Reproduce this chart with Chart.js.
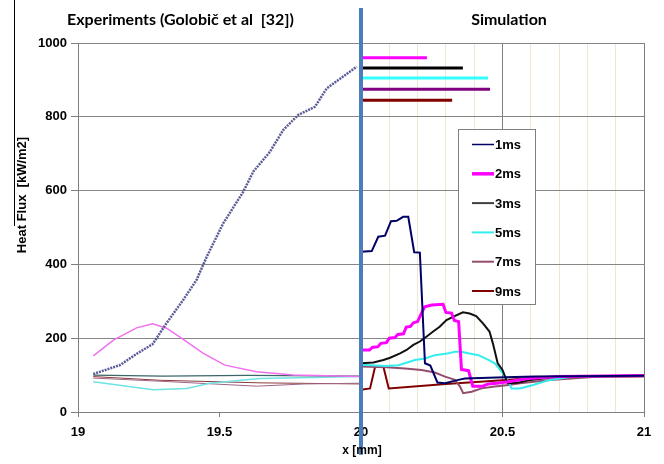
<!DOCTYPE html>
<html>
<head>
<meta charset="utf-8">
<script src="https://cdn.jsdelivr.net/npm/chart.js@4/dist/chart.umd.min.js"></script>
<style>
  body { margin: 0; background: #fff; }
  canvas { display: block; }
</style>
</head>
<body>
<canvas id="chart" width="664" height="464"></canvas>
<script>
// Experiment curves (left half), [x mm, heat flux kW/m2]
const exp1ms = [[19.054, 103], [19.148, 127], [19.212, 160], [19.264, 184], [19.313, 241], [19.371, 303],
  [19.419, 358], [19.455, 421], [19.513, 511], [19.584, 597], [19.619, 651], [19.678, 705], [19.725, 764],
  [19.778, 805], [19.837, 827], [19.879, 877], [19.985, 936]];
const exp2ms = [[19.054, 152], [19.125, 195], [19.207, 228], [19.264, 239], [19.313, 227], [19.372, 197],
  [19.443, 159], [19.519, 127], [19.631, 109], [19.761, 100], [19.879, 98], [19.996, 96]];
const exp3ms = [[19.054, 100], [19.3, 97], [19.6, 99], [20.0, 97]];
const exp5ms = [[19.054, 82], [19.266, 60], [19.384, 64], [19.466, 78], [19.643, 91], [19.996, 96]];
const exp7ms = [[19.054, 92], [19.3, 83], [19.631, 70], [19.8, 76], [20.0, 78]];
const exp9ms = [[19.054, 96], [19.29, 86], [19.643, 79], [20.0, 76]];

// Simulation curves (right half)
const sim1ms = [[20.0, 434], [20.038, 436], [20.061, 475], [20.085, 478], [20.106, 517], [20.126, 518],
  [20.149, 529], [20.167, 529], [20.188, 433], [20.208, 432], [20.226, 132], [20.245, 126], [20.27, 80],
  [20.297, 78], [20.344, 87], [20.367, 91], [20.509, 94], [20.615, 96], [21.0, 98]];
const sim2ms = [[20.0, 168], [20.03, 168], [20.04, 175], [20.06, 177], [20.07, 186], [20.09, 188], [20.1, 200],
  [20.12, 202], [20.13, 210], [20.15, 212], [20.16, 230], [20.175, 232], [20.185, 242], [20.2, 245],
  [20.21, 262], [20.225, 285], [20.25, 290], [20.29, 292], [20.3, 270], [20.32, 268], [20.33, 248],
  [20.345, 245], [20.355, 115], [20.38, 112], [20.395, 70], [20.43, 70], [20.45, 76], [20.48, 78],
  [20.52, 82], [20.59, 91], [20.7, 96], [21.0, 99]];
const sim3ms = [[20.0, 132], [20.044, 134], [20.079, 141], [20.103, 147], [20.138, 159], [20.161, 168],
  [20.185, 182], [20.208, 191], [20.231, 204], [20.255, 218], [20.278, 231], [20.302, 249], [20.325, 258],
  [20.36, 270], [20.384, 267], [20.407, 260], [20.431, 240], [20.454, 218], [20.466, 186], [20.483, 132],
  [20.5, 114], [20.518, 78], [20.554, 79], [20.6, 87], [20.7, 96], [21.0, 98]];
const sim5ms = [[20.0, 128], [20.085, 125], [20.132, 127], [20.191, 141], [20.226, 145], [20.261, 154],
  [20.309, 159], [20.332, 163], [20.355, 163], [20.379, 159], [20.415, 154], [20.45, 141], [20.473, 132],
  [20.497, 109], [20.521, 82], [20.532, 64], [20.562, 64], [20.608, 73], [20.668, 87], [20.75, 96], [21.0, 98]];
const sim7ms = [[20.0, 123], [20.091, 121], [20.155, 118], [20.214, 114], [20.261, 107], [20.297, 96],
  [20.332, 87], [20.35, 69], [20.361, 51], [20.391, 55], [20.426, 64], [20.473, 69], [20.521, 73],
  [20.562, 78], [20.668, 87], [20.845, 96], [21.0, 97]];
const sim9ms = [[20.0, 60], [20.032, 64], [20.05, 123], [20.079, 123], [20.098, 64], [20.3, 76],
  [20.5, 86], [20.65, 95], [21.0, 97]];

// Short bars at the top of the simulation half
const topBarEnds = [20.233, 20.36, 20.449, 20.456, 20.322];
const topBarValues = [960, 932, 905, 875, 845];
const topBarColors = ['#ff00ff', '#000000', '#33ffff', '#800080', '#800000'];

const legendLabels = ['1ms', '2ms', '3ms', '5ms', '7ms', '9ms'];
const yTicks = [0, 200, 400, 600, 800, 1000];
const divider = [[20.0, -116], [20.0, 1095]];

const toPts = arr => arr.map(p => ({ x: p[0], y: p[1] }));

function line(data, color, width, extra) {
  return Object.assign({
    data: toPts(data),
    borderColor: color,
    backgroundColor: color,
    borderWidth: width,
    pointRadius: 0,
    tension: 0,
    fill: false
  }, extra || {});
}

const datasets = [
  line(divider, '#4a7ebb', 4, { clip: false, order: -1 }),
  line(exp1ms, '#5b5b98', 2.5, { borderDash: [2, 1] }),
  line(exp2ms, '#f070f0', 1.5),
  line(exp3ms, '#3d6666', 1.2),
  line(exp5ms, '#6fe3e3', 1.5),
  line(exp7ms, '#a06585', 1),
  line(exp9ms, '#8b3a3a', 1),
  line(sim1ms, '#000066', 2, { legend: legendLabels[0], legendWidth: 1.5 }),
  line(sim2ms, '#ff00ff', 3, { legend: legendLabels[1], legendWidth: 3.5 }),
  line(sim3ms, '#111111', 2, { legend: legendLabels[2], legendWidth: 2, legendColor: '#404040' }),
  line(sim5ms, '#33eeee', 2, { legend: legendLabels[3], legendWidth: 2 }),
  line(sim7ms, '#954d6d', 2, { legend: legendLabels[4], legendWidth: 2 }),
  line(sim9ms, '#800000', 2, { legend: legendLabels[5], legendWidth: 2 })
];
topBarEnds.forEach((end, i) => {
  datasets.push(line([[20.0, topBarValues[i]], [end, topBarValues[i]]], topBarColors[i], 3));
});

const isHalf = v => Math.abs(v * 2 - Math.round(v * 2)) < 1e-6;

const overlay = {
  id: 'overlay',
  afterDraw(chart) {
    const ctx = chart.ctx;
    ctx.save();
    // panel titles
    ctx.fillStyle = '#000';
    ctx.textBaseline = 'middle';
    ctx.font = 'bold 16px Lato, "Open Sans", sans-serif';
    ctx.textAlign = 'left';
    ctx.fillText('Experiments (Golobič et al  [32])', 67, 20);
    ctx.textAlign = 'center';
    ctx.fillText('Simulation', 509, 20);

    // axis titles
    ctx.font = 'bold 12px "Liberation Sans", Arial, sans-serif';
    ctx.fillText('x [mm]', 362, 451);
    ctx.save();
    ctx.translate(22, 195);
    ctx.rotate(-Math.PI / 2);
    ctx.font = 'bold 13px "Liberation Sans", Arial, sans-serif';
    ctx.fillText('Heat Flux  [kW/m2]', 0, 0);
    ctx.restore();

    // stray frame edge on the left
    ctx.strokeStyle = '#000';
    ctx.lineWidth = 1;
    ctx.beginPath();
    ctx.moveTo(14.5, 0);
    ctx.lineTo(14.5, 226);
    ctx.stroke();

    // legend box
    const bx = 458.5, by = 129.5, bw = 77, bh = 175;
    ctx.fillStyle = '#fff';
    ctx.fillRect(bx, by, bw, bh);
    ctx.strokeStyle = '#808080';
    ctx.strokeRect(bx, by, bw, bh);
    ctx.font = 'bold 13px "Liberation Sans", Arial, sans-serif';
    ctx.textAlign = 'left';
    let row = 0;
    chart.data.datasets.forEach(ds => {
      if (!ds.legend) return;
      const y = 144.5 + row * 29.3;
      ctx.strokeStyle = ds.legendColor || ds.borderColor;
      ctx.lineWidth = ds.legendWidth;
      ctx.beginPath();
      ctx.moveTo(472, y);
      ctx.lineTo(494, y);
      ctx.stroke();
      ctx.fillStyle = '#000';
      ctx.fillText(ds.legend, 495, y + 1);
      row++;
    });
    ctx.restore();
  }
};

new Chart(document.getElementById('chart'), {
  type: 'line',
  data: { datasets: datasets },
  options: {
    responsive: false,
    animation: false,
    layout: { padding: { top: 43, right: 20, left: 0, bottom: 0 } },
    plugins: { legend: { display: false }, title: { display: false }, tooltip: { enabled: false } },
    scales: {
      x: {
        type: 'linear',
        min: 19,
        max: 21,
        afterFit: s => { s.height = 52; },
        ticks: {
          stepSize: 0.1,
          maxTicksLimit: 100,
          autoSkip: false,
          maxRotation: 0,
          padding: 8,
          color: '#000',
          font: { family: '"Liberation Sans", Arial, sans-serif', size: 13, weight: 'bold' },
          callback: v => isHalf(v) ? String(Math.round(v * 10) / 10) : ''
        },
        grid: {
          tickLength: 5,
          lineWidth: 1,
          color: c => {
            const v = c.tick ? c.tick.value : 0;
            if (v < 20 - 1e-6) return 'rgba(0,0,0,0)';
            return isHalf(v) ? '#7f7f7f' : '#f1e6d2';
          },
          tickColor: c => (c.tick && isHalf(c.tick.value)) ? '#7f7f7f' : 'rgba(0,0,0,0)'
        },
        border: { color: '#7f7f7f' }
      },
      y: {
        min: 0,
        max: 1000,
        afterFit: s => { s.width = 78; },
        afterBuildTicks: s => { s.ticks = yTicks.map(v => ({ value: v })); },
        ticks: {
          padding: 4,
          color: '#000',
          font: { family: '"Liberation Sans", Arial, sans-serif', size: 13, weight: 'bold' },
          callback: v => String(v)
        },
        grid: { color: '#868686', tickLength: 7, tickColor: '#7f7f7f' },
        border: { color: '#7f7f7f' }
      }
    }
  },
  plugins: [overlay]
});
</script>
</body>
</html>
